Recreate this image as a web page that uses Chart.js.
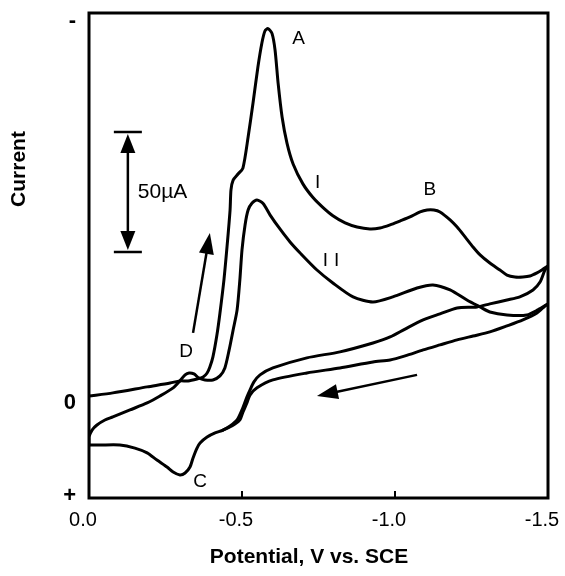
<!DOCTYPE html>
<html>
<head>
<meta charset="utf-8">
<script src="https://cdn.jsdelivr.net/npm/chart.js@4/dist/chart.umd.min.js"></script>
<style>
  html, body { margin: 0; padding: 0; background: #fff; }
</style>
</head>
<body>
<canvas id="cnv_cv_chart" width="565" height="576"></canvas>
<script>
// potential in V vs SCE, current in uA (cathodic current plotted upward)
const scan1ForwardPotential = [0, -0.078, -0.190, -0.265, -0.297, -0.324, -0.353, -0.373, -0.386, -0.395, -0.405, -0.418, -0.428, -0.441, -0.451, -0.461, -0.464, -0.471, -0.487, -0.503, -0.520, -0.536, -0.552, -0.565, -0.575, -0.585, -0.598, -0.608, -0.618, -0.631, -0.647, -0.667, -0.699, -0.732, -0.765, -0.797, -0.837, -0.876, -0.918, -0.951, -0.984, -1.016, -1.049, -1.082, -1.105, -1.127, -1.147, -1.180, -1.203, -1.229, -1.255, -1.278, -1.310, -1.343, -1.366, -1.392, -1.418, -1.441, -1.464, -1.480, -1.500]
const scan1ForwardCurrent = [2.9, 4.2, 6.7, 8.3, 9.2, 9.2, 10.0, 10.8, 12.5, 15.0, 19.2, 28.3, 37.5, 51.3, 65.0, 80.4, 88.8, 92.9, 95.4, 97.9, 110.8, 125.0, 140.0, 150.0, 155.0, 156.0, 154.0, 147.1, 133.3, 119.2, 108.3, 99.6, 91.3, 85.6, 81.4, 78.0, 75.0, 73.3, 72.5, 72.9, 74.2, 75.8, 77.5, 79.6, 80.4, 80.4, 79.6, 76.3, 73.3, 69.2, 65.0, 61.7, 58.3, 55.4, 53.3, 52.5, 52.5, 52.9, 54.2, 55.4, 57.1]

const scan1ReversePotential = [-1.500, -1.490, -1.474, -1.451, -1.408, -1.366, -1.310, -1.268, -1.203, -1.147, -1.092, -1.033, -0.984, -0.928, -0.820, -0.712, -0.601, -0.559, -0.539, -0.526, -0.516, -0.500, -0.484, -0.461, -0.438, -0.412, -0.386, -0.363, -0.353, -0.340, -0.330, -0.314, -0.297, -0.275, -0.255, -0.222, -0.190, -0.150, -0.101, -0.036, 0]
const scan1ReverseCurrent = [57.1, 55.4, 50.4, 47.1, 44.2, 42.9, 41.3, 40.0, 39.6, 37.1, 34.6, 30.8, 27.5, 25.0, 21.3, 18.8, 14.6, 11.7, 8.8, 5.4, 2.5, -2.9, -7.1, -9.6, -11.3, -12.5, -14.2, -16.7, -18.8, -22.9, -26.7, -29.2, -30.0, -28.8, -26.7, -23.8, -20.8, -18.8, -17.5, -17.5, -17.5]

const scan2ForwardPotential = [0, 0, -0.010, -0.026, -0.052, -0.078, -0.134, -0.190, -0.232, -0.275, -0.297, -0.314, -0.327, -0.343, -0.359, -0.379, -0.405, -0.428, -0.444, -0.458, -0.471, -0.484, -0.493, -0.500, -0.510, -0.520, -0.533, -0.549, -0.569, -0.592, -0.624, -0.657, -0.690, -0.745, -0.797, -0.863, -0.928, -0.993, -1.072, -1.124, -1.180, -1.235, -1.278, -1.310, -1.366, -1.431, -1.467, -1.500]
const scan2ForwardCurrent = [-17.5, -14.2, -11.3, -9.2, -7.1, -5.8, -2.9, 0, 2.9, 6.3, 9.2, 11.7, 12.5, 12.1, 10.4, 9.6, 9.6, 11.3, 14.6, 22.1, 30.4, 38.8, 51.3, 63.8, 74.2, 80.4, 83.3, 84.6, 83.1, 78.3, 72.5, 67.1, 62.5, 55.4, 50.0, 44.2, 42.1, 44.2, 47.9, 49.2, 47.1, 42.9, 40.0, 37.9, 36.7, 36.7, 38.8, 41.3]

const scan2ReversePotential = [-1.500, -1.490, -1.464, -1.418, -1.366, -1.310, -1.255, -1.203, -1.147, -1.092, -1.033, -0.984, -0.928, -0.820, -0.712, -0.601, -0.549, -0.526, -0.516, -0.503, -0.493, -0.477, -0.454, -0.438]
const scan2ReverseCurrent = [41.3, 40.4, 37.5, 34.6, 32.1, 29.6, 27.9, 26.3, 24.2, 22.1, 19.6, 17.9, 17.1, 14.6, 12.5, 9.6, 6.3, 3.3, 0, -3.8, -7.1, -8.8, -10.4, -11.3]

// axis ticks
const xTickValues = [0, -0.5, -1.0, -1.5]
const xTickLabels = ['0.0', '-0.5', '-1.0', '-1.5']
const yTickValues = [159.4, 0, -38.75]
const yTickLabels = ['-', '0', '+']

// peak labels and markers (potential, current)
const peakLabels = ['A', 'B', 'I', 'II', 'C', 'D']
const peakLabelPotential = [-0.685, -1.114, -0.747, -0.801, -0.363, -0.317]
const peakLabelCurrent = [151.7, 89.0, 91.9, 59.4, -32.7, 21.5]
const scaleBar = { potential: -0.127, from: 62.9, size: 50, label: '50\u00b5A' }
const scanArrows = [
    { from: [-0.340, 29.2], to: [-0.395, 70.8] },
    { from: [-1.072, 11.7], to: [-0.745, 2.9] }
]

const FONT = '"Liberation Sans", Arial, Helvetica, sans-serif'
const toPoints = (xs, ys) => xs.map((x, i) => ({ x: x, y: ys[i] }))

const drawArrow = (ctx, x0, y0, x1, y1, headLen, headHalf) => {
    const ang = Math.atan2(y1 - y0, x1 - x0)
    const c = Math.cos(ang), s = Math.sin(ang)
    ctx.beginPath()
    ctx.moveTo(x0, y0)
    ctx.lineTo(x1 - c * headLen * 0.7, y1 - s * headLen * 0.7)
    ctx.stroke()
    ctx.beginPath()
    ctx.moveTo(x1, y1)
    ctx.lineTo(x1 - headLen * c + headHalf * s, y1 - headLen * s - headHalf * c)
    ctx.lineTo(x1 - headLen * c - headHalf * s, y1 - headLen * s + headHalf * c)
    ctx.closePath()
    ctx.fill()
}

const cvDecor = {
    id: 'cvDecor',
    afterDraw(chart) {
        const { ctx, chartArea: area, scales: { x, y } } = chart
        ctx.save()
        ctx.strokeStyle = '#000'
        ctx.fillStyle = '#000'
        ctx.lineCap = 'butt'

        // frame
        ctx.lineWidth = 3
        ctx.strokeRect(area.left, area.top, area.right - area.left, area.bottom - area.top)

        // inner tick marks on potential axis
        ctx.lineWidth = 2
        xTickValues.forEach(v => {
            const px = x.getPixelForValue(v)
            if (px > area.left + 3 && px < area.right - 3) {
                ctx.beginPath()
                ctx.moveTo(px, area.bottom)
                ctx.lineTo(px, area.bottom - 7)
                ctx.stroke()
            }
        })

        // scale bar 50 uA
        const bx = x.getPixelForValue(scaleBar.potential)
        const by0 = y.getPixelForValue(scaleBar.from)
        const by1 = y.getPixelForValue(scaleBar.from + scaleBar.size)
        ctx.lineWidth = 2.5
        ctx.beginPath()
        ctx.moveTo(bx - 14, by1); ctx.lineTo(bx + 14, by1)
        ctx.moveTo(bx - 14, by0); ctx.lineTo(bx + 14, by0)
        ctx.stroke()
        drawArrow(ctx, bx, (by0 + by1) / 2, bx, by1 + 2, 19, 7.5)
        drawArrow(ctx, bx, (by0 + by1) / 2, bx, by0 - 2, 19, 7.5)
        ctx.font = '21px ' + FONT
        ctx.textAlign = 'left'
        ctx.textBaseline = 'middle'
        ctx.fillText(scaleBar.label, bx + 10, (by0 + by1) / 2)

        // scan direction arrows
        ctx.lineWidth = 2.5
        scanArrows.forEach(a => {
            drawArrow(ctx, x.getPixelForValue(a.from[0]), y.getPixelForValue(a.from[1]),
                x.getPixelForValue(a.to[0]), y.getPixelForValue(a.to[1]), 21, 7.5)
        })

        // peak labels
        ctx.font = '19px ' + FONT
        ctx.textAlign = 'center'
        peakLabels.forEach((t, i) => {
            ctx.letterSpacing = t === 'II' ? '6px' : '0px'
            ctx.fillText(t, x.getPixelForValue(peakLabelPotential[i]), y.getPixelForValue(peakLabelCurrent[i]))
        })
        ctx.letterSpacing = '0px'

        // axis titles
        ctx.font = 'bold 21px ' + FONT
        ctx.fillText('Potential, V vs. SCE', area.left + 220, area.bottom + 59)
        ctx.translate(area.left - 70, area.top + 156)
        ctx.rotate(-Math.PI / 2)
        ctx.fillText('Current', 0, 0)
        ctx.restore()
    }
}

const lineStyle = {
    showLine: true,
    borderColor: '#000',
    borderWidth: 3,
    pointRadius: 0,
    tension: 0.25,
    fill: false,
    borderJoinStyle: 'round',
    borderCapStyle: 'round'
}

const ctx = document.getElementById('cnv_cv_chart').getContext('2d')
const cvChart = new Chart(ctx, {
    type: 'scatter',
    plugins: [cvDecor],
    data: {
        datasets: [
            { label: 'I forward', data: toPoints(scan1ForwardPotential, scan1ForwardCurrent), ...lineStyle },
            { label: 'I reverse', data: toPoints(scan1ReversePotential, scan1ReverseCurrent), ...lineStyle },
            { label: 'II forward', data: toPoints(scan2ForwardPotential, scan2ForwardCurrent), ...lineStyle },
            { label: 'II reverse', data: toPoints(scan2ReversePotential, scan2ReverseCurrent), ...lineStyle }
        ]
    },
    options: {
        responsive: false,
        animation: false,
        events: [],
        layout: { padding: { top: 13, right: 17, left: 0, bottom: 0 } },
        plugins: {
            legend: { display: false },
            tooltip: { enabled: false }
        },
        scales: {
            x: {
                type: 'linear',
                min: -1.5,
                max: 0,
                reverse: true,
                grid: { display: false, drawTicks: false },
                border: { display: false },
                ticks: {
                    padding: 10,
                    labelOffset: -6,
                    color: '#000',
                    font: { family: FONT, size: 20 },
                    callback: v => xTickLabels[xTickValues.indexOf(v)]
                },
                afterBuildTicks: axis => { axis.ticks = xTickValues.map(v => ({ value: v })) },
                afterFit: s => {
                    s.height = 78
                    s.paddingLeft = 0; s.paddingRight = 0
                }
            },
            y: {
                type: 'linear',
                min: -39.6,
                max: 162.5,
                grid: { display: false, drawTicks: false },
                border: { display: false },
                ticks: {
                    padding: 13,
                    color: '#000',
                    font: { family: FONT, size: 22, weight: 'bold' },
                    callback: v => yTickLabels[yTickValues.indexOf(v)]
                },
                afterBuildTicks: axis => { axis.ticks = yTickValues.map(v => ({ value: v })) },
                afterFit: s => {
                    s.width = 89
                    s.paddingTop = 0; s.paddingBottom = 0
                }
            }
        }
    }
})
</script>
</body>
</html>
